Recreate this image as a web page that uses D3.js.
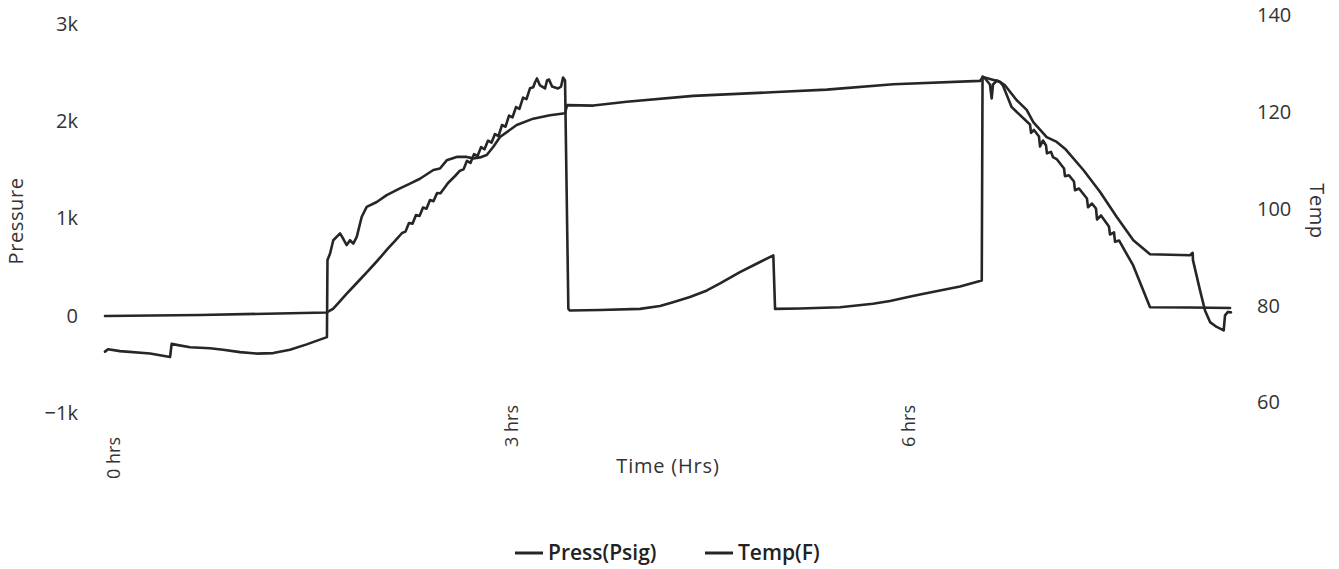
<!DOCTYPE html>
<html>
<head>
<meta charset="utf-8">
<script src="https://cdn.jsdelivr.net/npm/d3@7/dist/d3.min.js"></script>
<style>
  html, body { margin: 0; padding: 0; background: #fff; }
  svg { display: block; font-family: "Open Sans", "Noto Sans", sans-serif; }
</style>
</head>
<body>
<svg id="chart" width="1339" height="569"></svg>
<script>
// ---------------- data ----------------
const pressTime = [0.000,0.717,1.675,1.698,1.721,1.774,1.826,1.879,1.932,1.977,2.030,2.083,2.136,2.189,2.242,
  2.268,2.294,2.321,2.347,2.374,2.400,2.426,2.453,2.479,2.506,2.532,2.589,2.642,
  2.679,2.706,2.732,2.758,2.785,2.811,2.838,2.864,2.891,2.917,2.943,2.970,2.996,3.023,3.049,3.075,3.102,3.128,3.155,3.181,3.208,3.232,
  3.245,3.260,3.283,3.321,3.336,3.351,3.374,3.419,3.442,3.457,3.472,
  3.497,3.509,3.736,4.038,4.189,4.287,4.415,4.543,4.642,4.792,4.906,5.044,
  5.057,5.245,5.547,5.796,5.925,6.053,6.151,6.302,6.453,6.617,
  6.623,6.642,6.679,6.692,6.702,6.732,6.755,6.777,
  6.843,6.981,6.989,7.011,7.049,7.057,7.079,7.102,7.109,7.140,7.155,7.185,7.238,7.245,7.275,7.313,7.321,7.351,
  7.411,7.419,7.449,7.479,7.487,7.517,7.577,7.585,7.615,7.623,7.653,7.760,7.887,8.189,8.491];
const pressVal = [-3,8,33,54,71,150,229,306,383,448,527,609,692,769,851,
  865,953,947,1035,1026,1112,1101,1190,1178,1261,1259,1365,1437,
  1492,1505,1593,1571,1662,1641,1734,1712,1801,1780,1868,1846,1961,1944,2058,2039,2146,2127,2243,2228,2340,2350,
  2398,2440,2368,2337,2419,2429,2357,2337,2357,2450,2419,
  71,54,59,71,100,139,193,260,332,448,527,620,
  71,75,88,123,152,191,219,260,301,362,
  2460,2440,2378,2234,2378,2419,2402,2368,
  2145,1967,1880,1910,1843,1740,1802,1751,1670,1685,1630,1607,1514,1435,1445,1380,1290,1308,
  1205,1115,1154,1103,990,1031,918,835,857,760,774,517,88,85,80];

const tempTime = [0.000,0.023,0.113,0.340,0.491,0.503,0.541,0.642,0.792,0.891,1.019,1.145,1.270,1.396,1.522,1.675,
  1.679,1.698,1.723,1.774,1.798,1.824,1.849,1.874,1.900,1.937,1.975,2.051,2.126,2.226,2.302,2.377,2.478,2.528,2.579,
  2.654,2.730,2.780,2.830,2.881,2.931,2.981,3.107,3.232,3.358,3.472,3.487,3.685,3.937,4.440,5.070,5.447,5.950,6.604,
  6.626,6.679,6.755,6.792,6.881,6.956,7.006,7.107,7.183,7.245,7.384,7.509,7.636,7.761,7.887,8.189,
  8.209,8.211,8.264,8.302,8.340,8.390,8.443,8.453,8.475,8.498];
const tempVal = [70.5,71.0,70.6,70.1,69.4,72.1,71.9,71.4,71.2,70.9,70.4,70.1,70.2,70.9,72.0,73.5,
  89.4,90.7,93.5,94.9,93.8,92.5,93.5,92.8,94.2,98.3,100.4,101.4,102.8,104.2,105.2,106.2,108.0,108.3,110.0,
  110.7,110.7,110.4,110.6,111.1,112.8,114.8,117.3,118.6,119.3,119.7,121.4,121.3,122.1,123.3,124.1,124.6,125.7,126.4,
  127.2,126.8,126.2,125.5,122.4,120.4,117.9,114.8,113.8,112.4,108.0,103.5,98.3,93.5,90.6,90.4,
  90.9,89.4,83.2,79.0,76.6,75.6,74.9,78.0,78.7,78.6];

const xTickValues = [0, 3, 6];
const xTickLabels = ["0 hrs", "3 hrs", "6 hrs"];
const pressTicks = [-1000, 0, 1000, 2000, 3000];
const tempTicks = [60, 80, 100, 120, 140];
const seriesNames = ["Press(Psig)", "Temp(F)"];

// ---------------- layout ----------------
const svg = d3.select("#chart");
const lineColor = "#262626";
const textColor = "#333";

const x = d3.scaleLinear().domain([0, 8.5]).range([105, 1231.25]);
const yP = d3.scaleLinear().domain([-1000, 3000]).range([413, 24]);
const yT = d3.scaleLinear().domain([60, 140]).range([402.5, 15]);

// left axis
const gL = svg.append("g").attr("transform", "translate(78,0)")
  .call(d3.axisLeft(yP).tickValues(pressTicks).tickSize(0).tickPadding(0).tickFormat(d3.format("~s")));
gL.select(".domain").remove();
gL.selectAll("text").attr("fill", textColor).attr("font-size", 20).attr("font-family", "Open Sans");

// right axis
const gR = svg.append("g").attr("transform", "translate(1257,0)")
  .call(d3.axisRight(yT).tickValues(tempTicks).tickSize(0).tickPadding(0));
gR.select(".domain").remove();
gR.selectAll("text").attr("fill", textColor).attr("font-size", 20).attr("font-family", "Open Sans");

// bottom axis (rotated labels)
const gB = svg.append("g")
  .call(d3.axisBottom(x).tickValues(xTickValues).tickSize(0).tickFormat((d, i) => xTickLabels[i]));
gB.select(".domain").remove();
gB.selectAll("text")
  .attr("x", 0).attr("y", 0).attr("dy", null)
  .attr("text-anchor", "end")
  .attr("transform", d => `translate(14.5,${d === 0 ? 437 : 405}) rotate(-90)`)
  .attr("fill", textColor).attr("font-size", 18).attr("font-family", "Open Sans");

// axis titles
svg.append("text").attr("transform", "translate(23,221) rotate(-90)")
  .attr("text-anchor", "middle").attr("fill", textColor).attr("font-size", 20)
  .attr("letter-spacing", 0.6).text("Pressure");
svg.append("text").attr("transform", "translate(1310,211) rotate(90)")
  .attr("text-anchor", "middle").attr("fill", textColor).attr("font-size", 20)
  .attr("letter-spacing", 0.6).text("Temp");
svg.append("text").attr("x", 668).attr("y", 473)
  .attr("text-anchor", "middle").attr("fill", textColor).attr("font-size", 20)
  .attr("letter-spacing", 0.8).text("Time (Hrs)");

// lines
const pressData = pressTime.map((t, i) => [t, pressVal[i]]);
const tempData = tempTime.map((t, i) => [t, tempVal[i]]);

svg.append("path").datum(pressData)
  .attr("fill", "none").attr("stroke", lineColor).attr("stroke-width", 2.6)
  .attr("stroke-linejoin", "round").attr("stroke-linecap", "round")
  .attr("d", d3.line().x(d => x(d[0])).y(d => yP(d[1])));

svg.append("path").datum(tempData)
  .attr("fill", "none").attr("stroke", lineColor).attr("stroke-width", 2.6)
  .attr("stroke-linejoin", "round").attr("stroke-linecap", "round")
  .attr("d", d3.line().x(d => x(d[0])).y(d => yT(d[1])));

// legend
const legendItems = [{ name: seriesNames[0], lx: 515 }, { name: seriesNames[1], lx: 705 }];
const lg = svg.append("g");
legendItems.forEach(it => {
  lg.append("line").attr("x1", it.lx).attr("x2", it.lx + 28).attr("y1", 553).attr("y2", 553)
    .attr("stroke", lineColor).attr("stroke-width", 3);
  lg.append("text").attr("x", it.lx + 33).attr("y", 560)
    .attr("fill", "#222").attr("font-size", 21).attr("font-weight", 600)
    .text(it.name);
});
</script>
</body>
</html>
